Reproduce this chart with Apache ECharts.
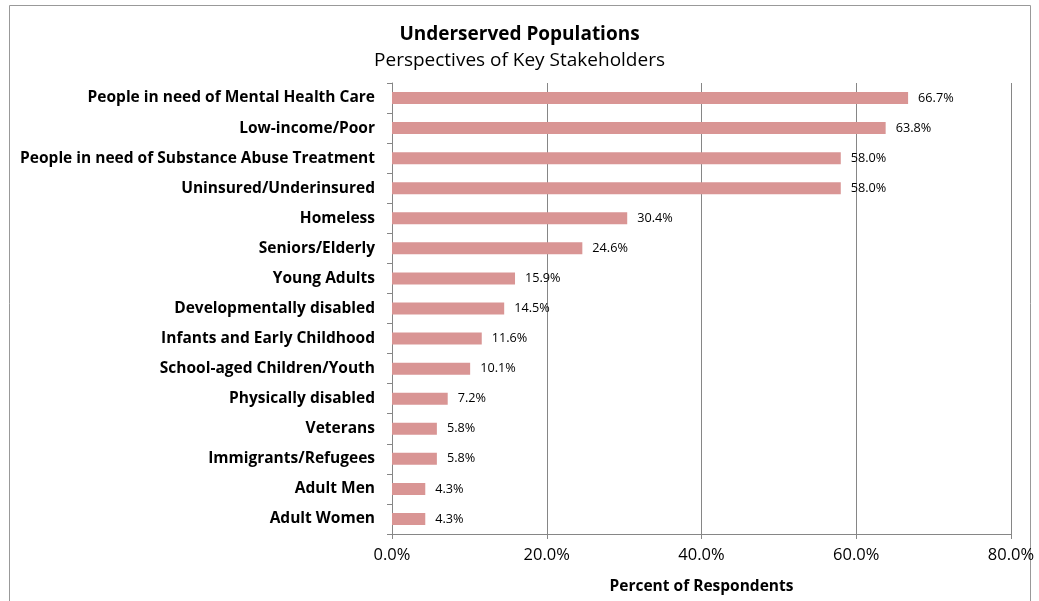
<!DOCTYPE html>
<html>
<head>
<meta charset="utf-8">
<script src="https://cdn.jsdelivr.net/npm/echarts@6/dist/echarts.min.js"></script>
<style>
  html, body { margin: 0; padding: 0; background: #fff; }
  #chart { width: 1039px; height: 601px; }
</style>
</head>
<body>
<div id="chart"></div>
<script>
// categories, top to bottom
const categories = [
  'People in need of Mental Health Care',
  'Low-income/Poor',
  'People in need of Substance Abuse Treatment',
  'Uninsured/Underinsured',
  'Homeless',
  'Seniors/Elderly',
  'Young Adults',
  'Developmentally disabled',
  'Infants and Early Childhood',
  'School-aged Children/Youth',
  'Physically disabled',
  'Veterans',
  'Immigrants/Refugees',
  'Adult Men',
  'Adult Women'
];
// percent of respondents
const percents = [66.7, 63.8, 58.0, 58.0, 30.4, 24.6, 15.9, 14.5, 11.6, 10.1, 7.2, 5.8, 5.8, 4.3, 4.3];
const xTicks = [0, 20, 40, 60, 80];

const FONT = '"Open Sans", sans-serif';
const grey = '#868686';

let chart = echarts.init(document.getElementById('chart'));

let option = {
  animation: false,
  textStyle: { fontFamily: FONT },
  title: {
    text: 'Underserved Populations',
    subtext: 'Perspectives of Key Stakeholders',
    left: 'center',
    top: 20,
    itemGap: 7,
    textStyle: { fontFamily: FONT, fontSize: 19, fontWeight: 'bold', color: '#000' },
    subtextStyle: { fontFamily: FONT, fontSize: 19, color: '#000' }
  },
  // frame around the chart
  graphic: [{
    type: 'rect',
    shape: { x: 9.5, y: 5.5, width: 1021, height: 620 },
    style: { fill: 'none', stroke: '#999', lineWidth: 1 },
    silent: true
  }],
  grid: { left: 392, right: 28, top: 83, bottom: 67 },
  xAxis: {
    type: 'value',
    min: xTicks[0],
    max: xTicks[xTicks.length - 1],
    interval: 20,
    name: 'Percent of Respondents',
    nameLocation: 'middle',
    nameGap: 45,
    nameTextStyle: { fontFamily: FONT, fontSize: 15.5, fontWeight: 'bold', color: '#000' },
    axisLine: { show: true, lineStyle: { color: grey } },
    axisTick: { show: true, length: 5, lineStyle: { color: grey } },
    axisLabel: {
      fontFamily: FONT, fontSize: 16.5, color: '#000', margin: 13,
      formatter: v => v.toFixed(1) + '%'
    },
    splitLine: { show: true, lineStyle: { color: grey, width: 1 } }
  },
  yAxis: {
    type: 'category',
    data: categories,
    inverse: true,
    axisLine: { show: true, lineStyle: { color: grey } },
    axisTick: { show: true, length: 5, lineStyle: { color: grey } },
    axisLabel: { fontFamily: FONT, fontSize: 15.5, fontWeight: 'bold', color: '#000', margin: 17 }
  },
  series: [{
    type: 'bar',
    data: percents,
    barWidth: 12,
    itemStyle: { color: '#D99594' },
    label: {
      show: true,
      position: 'right',
      distance: 10,
      fontFamily: FONT,
      fontSize: 12.7,
      color: '#000',
      formatter: p => p.value.toFixed(1) + '%'
    }
  }]
};

chart.setOption(option);
</script>
</body>
</html>
